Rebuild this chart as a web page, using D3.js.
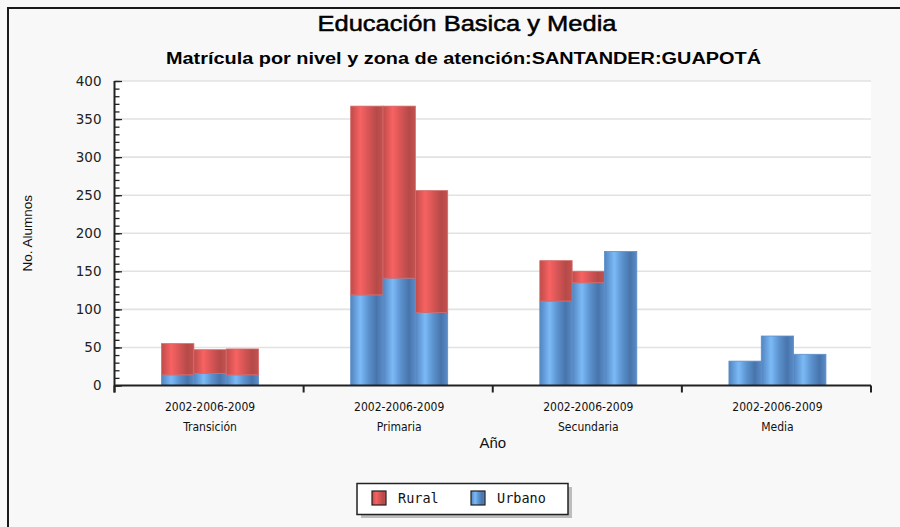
<!DOCTYPE html>
<html><head><meta charset="utf-8">
<script src="https://cdn.jsdelivr.net/npm/d3@7/dist/d3.min.js"></script>
<style>body{margin:0;background:#f8f8f8;overflow:hidden}svg{display:block}</style>
</head><body>
<svg id="chart" width="900" height="527"></svg>
<script>
// ---- data ----
const categories = ["Transición", "Primaria", "Secundaria", "Media"];
const years = ["2002", "2006", "2009"];
const yearLabel = "2002-2006-2009";
const seriesNames = ["Rural", "Urbano"];
const urbano = [[14, 16, 14], [119, 141, 96], [111, 135, 176], [32, 65, 41]];
const rural  = [[41, 31, 34], [248, 226, 160], [53, 15, 0], [0, 0, 0]];
const yTicks = [0, 50, 100, 150, 200, 250, 300, 350, 400];
const titleText = "Educación Basica y Media";
const subtitleText = "Matrícula por nivel y zona de atención:SANTANDER:GUAPOTÁ";
const xTitle = "Año";
const yTitle = "No. Alumnos";

// ---- layout ----
const svg = d3.select("#chart");
const L = 114.5, R = 871, T = 81, B = 385.5;

const x = d3.scaleBand().domain(categories).range([L, R]).padding(0);
const bw = x.bandwidth();
const groupW = 97;
const x1 = d3.scaleBand().domain(years).range([bw / 2 - groupW / 2 + 1, bw / 2 + groupW / 2 + 1]).padding(0);
const y = d3.scaleLinear().domain([0, 400]).range([B, T]);

// background
svg.append("rect").attr("x", 0).attr("y", 0).attr("width", 900).attr("height", 527).attr("fill", "#f8f8f8");
// outer border (top & left visible)
svg.append("path").attr("d", "M8,527 V8 H900").attr("fill", "none").attr("stroke", "#1a1a1a").attr("stroke-width", 2);

// plot area
svg.append("rect").attr("x", L).attr("y", T).attr("width", R - L).attr("height", B - T).attr("fill", "#ffffff");

// gridlines
svg.append("g").selectAll("line").data(yTicks.filter(d => d > 0)).join("line")
  .attr("x1", L).attr("x2", R).attr("y1", d => y(d)).attr("y2", d => y(d))
  .attr("stroke", "#e2e2e2").attr("stroke-width", 1.6);

// gradients
const defs = svg.append("defs");
function grad(id, stops) {
  const g = defs.append("linearGradient").attr("id", id).attr("x1", "0").attr("x2", "1").attr("y1", "0").attr("y2", "0");
  stops.forEach(s => g.append("stop").attr("offset", s[0]).attr("stop-color", s[1]));
}
grad("gBlue", [[0, "#5284c0"], [0.3, "#7bbaf6"], [0.55, "#5b92ce"], [0.8, "#4874ab"], [1, "#5a8cc8"]]);
grad("gRed",  [[0, "#bf4c4a"], [0.3, "#f86262"], [0.55, "#d65555"], [0.8, "#b54a48"], [1, "#c45150"]]);

// stacked bars (Urbano bottom, Rural on top)
const bars = [];
categories.forEach((c, ci) => {
  years.forEach((yr, yi) => {
    const u = urbano[ci][yi], r = rural[ci][yi];
    bars.push({ c, yr, s: "Urbano", y0: 0, y1: u });
    if (r > 0) bars.push({ c, yr, s: "Rural", y0: u, y1: u + r });
  });
});
svg.append("g").selectAll("rect").data(bars).join("rect")
  .attr("x", d => x(d.c) + x1(d.yr))
  .attr("width", x1.bandwidth())
  .attr("y", d => y(d.y1))
  .attr("height", d => y(d.y0) - y(d.y1))
  .attr("fill", d => d.s === "Rural" ? "url(#gRed)" : "url(#gBlue)")
  .attr("stroke", d => d.s === "Rural" ? "#d46a6a" : "#5d8ec6")
  .attr("stroke-width", 0.8);

// y axis: minor ticks
const minor = d3.range(0, 401, 10);
svg.append("g").attr("transform", `translate(${L},0)`)
  .call(d3.axisLeft(y).tickValues(minor).tickSize(-5).tickFormat(""))
  .call(g => g.select(".domain").remove())
  .selectAll("line").attr("stroke", "#222").attr("stroke-width", 1.3);
// y axis: major ticks + labels
const yAx = svg.append("g").attr("transform", `translate(${L},0)`)
  .call(d3.axisLeft(y).tickValues(yTicks).tickSize(-7.5).tickPadding(13));
yAx.select(".domain").remove();
yAx.selectAll("line").attr("stroke", "#222").attr("stroke-width", 1.3);
yAx.selectAll("text").attr("font-family", "DejaVu Sans").attr("font-size", 13.5).attr("fill", "#222");
// y axis line
svg.append("line").attr("x1", L).attr("x2", L).attr("y1", T).attr("y2", B + 7).attr("stroke", "#222").attr("stroke-width", 2);

// x axis line and boundary ticks
svg.append("line").attr("x1", L).attr("x2", R).attr("y1", B).attr("y2", B).attr("stroke", "#222").attr("stroke-width", 2);
const bounds = categories.map(c => x(c)).concat([x.range()[1]]);
svg.append("g").selectAll("line").data(bounds).join("line")
  .attr("x1", d => d).attr("x2", d => d).attr("y1", B).attr("y2", B + 7)
  .attr("stroke", "#222").attr("stroke-width", 2);

// x labels
const xl = svg.append("g").attr("font-family", "DejaVu Sans Condensed, DejaVu Sans").attr("font-size", 12).attr("fill", "#111").attr("text-anchor", "middle");
xl.selectAll("text.yr").data(categories).join("text").attr("class", "yr")
  .attr("x", d => x(d) + bw / 2 + 1).attr("y", 411).text(yearLabel);
xl.selectAll("text.cat").data(categories).join("text").attr("class", "cat")
  .attr("x", d => x(d) + bw / 2 + 1).attr("y", 431).text(d => d);

// axis titles
svg.append("text").attr("x", (L + R) / 2).attr("y", 448).attr("text-anchor", "middle")
  .attr("font-family", "Liberation Sans, Arial").attr("font-size", 15).attr("fill", "#111").text(xTitle);
svg.append("text").attr("transform", `translate(32,${(T + B) / 2}) rotate(-90)`).attr("text-anchor", "middle")
  .attr("font-family", "Liberation Sans, Arial").attr("font-size", 13.5).attr("fill", "#111").text(yTitle);

// titles
svg.append("text").attr("x", 467).attr("y", 31).attr("text-anchor", "middle")
  .attr("font-family", "Liberation Sans, Arial").attr("font-size", 22).attr("fill", "#000")
  .attr("stroke", "#000").attr("stroke-width", 0.5)
  .attr("textLength", 299).attr("lengthAdjust", "spacingAndGlyphs").text(titleText);
svg.append("text").attr("x", 463.5).attr("y", 64).attr("text-anchor", "middle")
  .attr("font-family", "Liberation Sans, Arial").attr("font-weight", "bold").attr("font-size", 16).attr("fill", "#000")
  .attr("textLength", 595).attr("lengthAdjust", "spacingAndGlyphs").text(subtitleText);

// legend
const lg = svg.append("g");
lg.append("rect").attr("x", 361).attr("y", 487).attr("width", 211).attr("height", 31).attr("fill", "#bdbdbd");
lg.append("rect").attr("x", 357).attr("y", 483.5).attr("width", 211).attr("height", 31).attr("fill", "#fff").attr("stroke", "#222").attr("stroke-width", 1.5);
const color = { Rural: "url(#gRed)", Urbano: "url(#gBlue)" };
const lx = d3.scalePoint().domain(seriesNames).range([372, 471]);
const items = lg.selectAll("g.it").data(seriesNames).join("g").attr("class", "it")
  .attr("transform", d => `translate(${lx(d)},491)`);
items.append("rect").attr("width", 14).attr("height", 14).attr("fill", d => color[d]).attr("stroke", "#222").attr("stroke-width", 1.2);
items.append("text").attr("x", 26).attr("y", 12).attr("font-family", "DejaVu Sans Mono").attr("font-size", 13.5).attr("fill", "#111").text(d => d);
</script>
</body></html>
